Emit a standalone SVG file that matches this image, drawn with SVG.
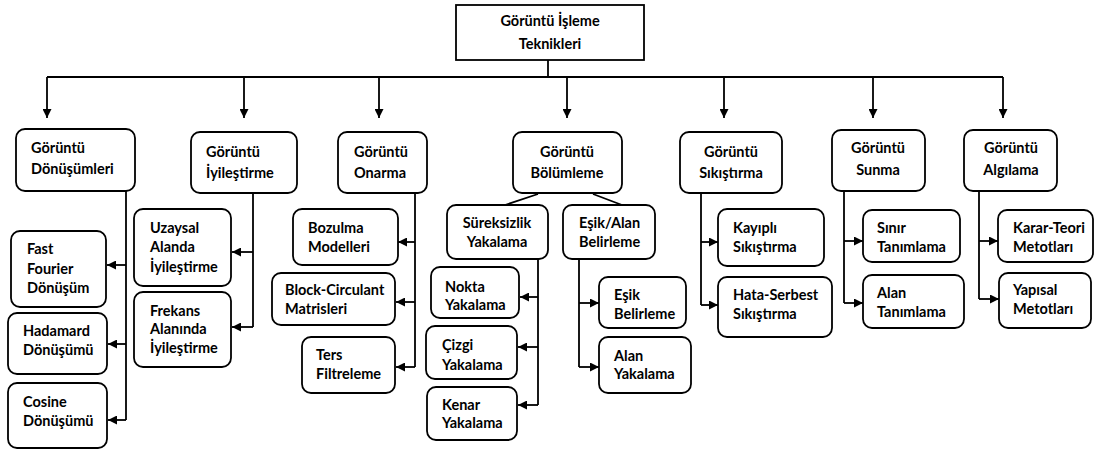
<svg xmlns="http://www.w3.org/2000/svg" width="1095" height="450" viewBox="0 0 1095 450">
<style>
.b{fill:#fff;stroke:#000;stroke-width:1.8}
.t{font-family:Lato,"Liberation Sans",sans-serif;font-weight:bold;font-size:14.5px;fill:#000}
.m{text-anchor:middle}
.c{fill:none;stroke:#000;stroke-width:1.8}
</style>
<defs>
<marker id="ah" viewBox="0 0 10 10" refX="10" refY="5" markerWidth="9" markerHeight="9" orient="auto" markerUnits="userSpaceOnUse"><path d="M0,0 L10,5 L0,10 z" fill="#000"/></marker>
</defs>
<g id="connectors">
<path class="c" d="M548,60 V77 M47,77 H1003"/>
<path class="c" d="M47,77 V118" marker-end="url(#ah)"/>
<path class="c" d="M244,77 V118" marker-end="url(#ah)"/>
<path class="c" d="M379,77 V118" marker-end="url(#ah)"/>
<path class="c" d="M567,77 V118" marker-end="url(#ah)"/>
<path class="c" d="M724,77 V118" marker-end="url(#ah)"/>
<path class="c" d="M873,77 V118" marker-end="url(#ah)"/>
<path class="c" d="M1003,77 V118" marker-end="url(#ah)"/>
<path class="c" d="M126,191 V420"/>
<path class="c" d="M126,265 H107" marker-end="url(#ah)"/>
<path class="c" d="M126,344 H108" marker-end="url(#ah)"/>
<path class="c" d="M126,420 H108" marker-end="url(#ah)"/>
<path class="c" d="M253,193 V327"/>
<path class="c" d="M253,252 H232" marker-end="url(#ah)"/>
<path class="c" d="M253,327 H232" marker-end="url(#ah)"/>
<path class="c" d="M415,193 V367"/>
<path class="c" d="M415,242 H398" marker-end="url(#ah)"/>
<path class="c" d="M415,302 H396" marker-end="url(#ah)"/>
<path class="c" d="M415,367 H396" marker-end="url(#ah)"/>
<path class="c" d="M538,194 L505,205 M593,194 L622,205"/>
<path class="c" d="M538,259 V405"/>
<path class="c" d="M538,297 H520" marker-end="url(#ah)"/>
<path class="c" d="M538,347 H518" marker-end="url(#ah)"/>
<path class="c" d="M538,405 H518" marker-end="url(#ah)"/>
<path class="c" d="M579,259 V367"/>
<path class="c" d="M579,303 H599" marker-end="url(#ah)"/>
<path class="c" d="M579,367 H599" marker-end="url(#ah)"/>
<path class="c" d="M701,193 V305"/>
<path class="c" d="M701,242 H718" marker-end="url(#ah)"/>
<path class="c" d="M701,305 H718" marker-end="url(#ah)"/>
<path class="c" d="M844,191 V303"/>
<path class="c" d="M844,241 H863" marker-end="url(#ah)"/>
<path class="c" d="M844,303 H863" marker-end="url(#ah)"/>
<path class="c" d="M979,191 V299"/>
<path class="c" d="M979,241 H998" marker-end="url(#ah)"/>
<path class="c" d="M979,299 H999" marker-end="url(#ah)"/>
</g>
<g id="root"><rect class="b" x="456" y="5" width="188" height="55"/><text class="t m" x="550" y="26">Görüntü İşleme</text><text class="t m" x="550" y="49">Teknikleri</text></g>
<g id="n-donusumleri"><rect class="b" x="16" y="129" width="119" height="62" rx="9"/><text class="t" x="31" y="153">Görüntü</text><text class="t" x="31" y="174">Dönüşümleri</text></g>
<g id="n-iyilestirme"><rect class="b" x="191" y="132" width="106" height="61" rx="9"/><text class="t" x="206" y="157">Görüntü</text><text class="t" x="206" y="178">İyileştirme</text></g>
<g id="n-onarma"><rect class="b" x="338" y="132" width="89" height="61" rx="9"/><text class="t" x="354" y="157">Görüntü</text><text class="t" x="354" y="178">Onarma</text></g>
<g id="n-bolumleme"><rect class="b" x="513" y="132" width="109" height="61" rx="9"/><text class="t m" x="567" y="157">Görüntü</text><text class="t m" x="567" y="178">Bölümleme</text></g>
<g id="n-sikistirma"><rect class="b" x="680" y="132" width="102" height="61" rx="9"/><text class="t m" x="731" y="157">Görüntü</text><text class="t m" x="731" y="178">Sıkıştırma</text></g>
<g id="n-sunma"><rect class="b" x="832" y="130" width="93" height="61" rx="9"/><text class="t m" x="878" y="153">Görüntü</text><text class="t m" x="878" y="175">Sunma</text></g>
<g id="n-algilama"><rect class="b" x="964" y="130" width="93" height="61" rx="9"/><text class="t m" x="1011" y="153">Görüntü</text><text class="t m" x="1011" y="175">Algılama</text></g>
<g id="n-fft"><rect class="b" x="11" y="231" width="95" height="76" rx="9"/><text class="t" x="27" y="254">Fast</text><text class="t" x="27" y="274">Fourier</text><text class="t" x="27" y="293">Dönüşüm</text></g>
<g id="n-hadamard"><rect class="b" x="8" y="313" width="99" height="61" rx="9"/><text class="t" x="23" y="336">Hadamard</text><text class="t" x="23" y="355">Dönüşümü</text></g>
<g id="n-cosine"><rect class="b" x="8" y="383" width="99" height="65" rx="9"/><text class="t" x="23" y="407">Cosine</text><text class="t" x="23" y="426">Dönüşümü</text></g>
<g id="n-uzaysal"><rect class="b" x="134" y="209" width="97" height="77" rx="9"/><text class="t" x="150" y="233">Uzaysal</text><text class="t" x="150" y="252">Alanda</text><text class="t" x="150" y="272">İyileştirme</text></g>
<g id="n-frekans"><rect class="b" x="134" y="292" width="97" height="75" rx="9"/><text class="t" x="150" y="316">Frekans</text><text class="t" x="150" y="334">Alanında</text><text class="t" x="150" y="353">İyileştirme</text></g>
<g id="n-bozulma"><rect class="b" x="293" y="209" width="105" height="56" rx="9"/><text class="t" x="308" y="233">Bozulma</text><text class="t" x="308" y="252">Modelleri</text></g>
<g id="n-block"><rect class="b" x="272" y="273" width="123" height="52" rx="9"/><text class="t" x="285" y="295">Block-Circulant</text><text class="t" x="285" y="314">Matrisleri</text></g>
<g id="n-ters"><rect class="b" x="302" y="337" width="93" height="56" rx="9"/><text class="t" x="316" y="360">Ters</text><text class="t" x="316" y="379">Filtreleme</text></g>
<g id="n-sureksizlik"><rect class="b" x="447" y="205" width="101" height="54" rx="9"/><text class="t m" x="497" y="228">Süreksizlik</text><text class="t m" x="497" y="247">Yakalama</text></g>
<g id="n-esikalan"><rect class="b" x="563" y="205" width="92" height="54" rx="9"/><text class="t" x="579" y="228">Eşik/Alan</text><text class="t" x="579" y="247">Belirleme</text></g>
<g id="n-nokta"><rect class="b" x="431" y="267" width="88" height="51" rx="9"/><text class="t" x="445" y="292">Nokta</text><text class="t" x="445" y="310">Yakalama</text></g>
<g id="n-cizgi"><rect class="b" x="426" y="326" width="91" height="53" rx="9"/><text class="t" x="442" y="350">Çizgi</text><text class="t" x="442" y="370">Yakalama</text></g>
<g id="n-kenar"><rect class="b" x="427" y="387" width="90" height="53" rx="9"/><text class="t" x="442" y="410">Kenar</text><text class="t" x="442" y="428">Yakalama</text></g>
<g id="n-esik"><rect class="b" x="599" y="277" width="87" height="51" rx="9"/><text class="t" x="614" y="300">Eşik</text><text class="t" x="614" y="319">Belirleme</text></g>
<g id="n-alanyak"><rect class="b" x="599" y="337" width="92" height="56" rx="9"/><text class="t" x="614" y="361">Alan</text><text class="t" x="614" y="379">Yakalama</text></g>
<g id="n-kayipli"><rect class="b" x="718" y="209" width="106" height="57" rx="9"/><text class="t" x="733" y="233">Kayıplı</text><text class="t" x="733" y="252">Sıkıştırma</text></g>
<g id="n-hata"><rect class="b" x="718" y="277" width="114" height="60" rx="9"/><text class="t" x="733" y="300">Hata-Serbest</text><text class="t" x="733" y="319">Sıkıştırma</text></g>
<g id="n-sinir"><rect class="b" x="863" y="210" width="97" height="52" rx="9"/><text class="t" x="877" y="233">Sınır</text><text class="t" x="877" y="252">Tanımlama</text></g>
<g id="n-alantan"><rect class="b" x="863" y="275" width="101" height="53" rx="9"/><text class="t" x="877" y="298">Alan</text><text class="t" x="877" y="317">Tanımlama</text></g>
<g id="n-karar"><rect class="b" x="998" y="210" width="95" height="52" rx="9"/><text class="t" x="1013" y="233">Karar-Teori</text><text class="t" x="1013" y="252">Metotları</text></g>
<g id="n-yapisal"><rect class="b" x="999" y="273" width="92" height="55" rx="9"/><text class="t" x="1013" y="295">Yapısal</text><text class="t" x="1013" y="314">Metotları</text></g>
</svg>
